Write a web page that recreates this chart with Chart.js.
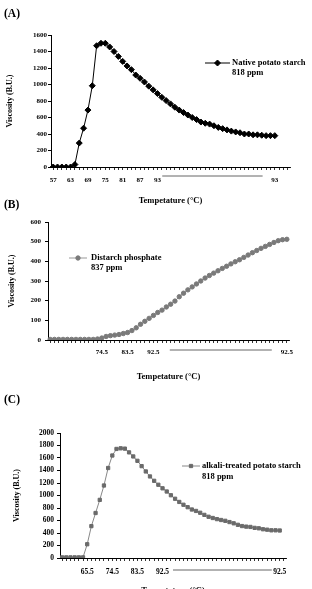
<!DOCTYPE html>
<html>
<head>
<meta charset="utf-8">
<script src="https://cdn.jsdelivr.net/npm/chart.js@4.4.1/dist/chart.umd.min.js"></script>
<style>
  html, body { margin: 0; padding: 0; background: #fff; overflow: hidden; }
  body { width: 312px; height: 589px; position: relative; }
  .panel { position: absolute; left: 0; width: 312px; }
  .tag { position: absolute; left: 4px; font: bold 11.5px 'Liberation Serif', serif; color: #000; }
</style>
</head>
<body>
<div class="panel" style="top:0px"><canvas id="chart-a" width="312" height="208"></canvas></div>
<div class="panel" style="top:205px"><canvas id="chart-b" width="312" height="179"></canvas></div>
<div class="panel" style="top:395px"><canvas id="chart-c" width="312" height="203"></canvas></div>
<div class="tag" style="top:7px">(A)</div>
<div class="tag" style="top:198px">(B)</div>
<div class="tag" style="top:393px">(C)</div>

<script>
// (A) native potato starch
const COUNT_A = 55;
const TICK_POS_A = [0, 4, 8, 12, 16, 20, 24, 51];
const TICK_TXT_A = ['57', '63', '69', '75', '81', '87', '93', '93'];
const HOLD_A = [25.1, 48.2];
const LEGEND_A = ['Native potato starch', '818 ppm'];
const VISC_A = [0, 0, 0, 0, 0, 30, 290, 470, 690, 985, 1470, 1500, 1500, 1455, 1400, 1340, 1280, 1225,
    1180, 1115, 1075, 1030, 980, 935, 890, 845, 805, 765, 725, 690, 660, 630, 600, 575, 545, 530, 520,
    500, 480, 465, 450, 435, 425, 415, 400, 400, 390, 390, 385, 380, 380, 380];

// (B) distarch phosphate
const COUNT_B = 56;
const TICK_POS_B = [12, 18, 24, 55];
const TICK_TXT_B = ['74.5', '83.5', '92.5', '92.5'];
const HOLD_B = [27.8, 51.5];
const LEGEND_B = ['Distarch phosphate', '837 ppm'];
const VISC_B = [3, 3, 3, 3, 3, 3, 3, 3, 3, 3, 3, 5, 10, 18, 22, 25, 28, 33, 38, 48, 62, 80, 95, 110, 125,
    140, 152, 168, 182, 198, 220, 238, 255, 270, 285, 300, 315, 328, 340, 352, 364, 375, 387, 398, 408,
    420, 432, 444, 455, 466, 476, 486, 496, 505, 510, 512];

// (C) alkali-treated potato starch
const COUNT_C = 54;
const TICK_POS_C = [6, 12, 18, 24, 52];
const TICK_TXT_C = ['65.5', '74.5', '83.5', '92.5', '92.5'];
const HOLD_C = [26.5, 50.1];
const LEGEND_C = ['alkali-treated potato starch', '818 ppm'];
const VISC_C = [10, 10, 10, 10, 10, 10, 220, 510, 720, 930, 1160, 1440, 1640, 1745, 1755, 1750, 1690,
    1625, 1555, 1470, 1385, 1305, 1235, 1172, 1115, 1064, 1004, 948, 897, 852, 813, 776, 753, 724, 690,
    660, 640, 622, 608, 595, 575, 555, 531, 511, 502, 497, 482, 475, 460, 453, 443, 443, 440];

const SERIF = "'Liberation Serif', 'Times New Roman', serif";

function buildLabels(n, pos, txt) {
    const out = new Array(n).fill('');
    pos.forEach(function (p, i) { out[p] = txt[i]; });
    return out;
}

// legend drawn inside the plot, two text lines next to a line+marker sample
const inlineLegend = {
    id: 'inlineLegend',
    afterDatasetsDraw(chart, args, opts) {
        const ds = chart.data.datasets[0];
        const ctx = chart.ctx;
        ctx.save();
        ctx.strokeStyle = ds.borderColor;
        ctx.lineWidth = 1;
        ctx.beginPath();
        ctx.moveTo(opts.x1, opts.y);
        ctx.lineTo(opts.x2, opts.y);
        ctx.stroke();
        ctx.fillStyle = ds.pointBackgroundColor;
        ctx.strokeStyle = ds.pointBorderColor;
        Chart.helpers.drawPoint(ctx, {
            pointStyle: ds.pointStyle, radius: ds.pointRadius, rotation: 0, borderWidth: 1
        }, (opts.x1 + opts.x2) / 2, opts.y);
        ctx.fillStyle = '#000';
        ctx.font = 'bold ' + opts.size + 'px ' + SERIF;
        ctx.textBaseline = 'middle';
        ctx.textAlign = 'left';
        opts.text.forEach(function (line, i) {
            ctx.fillText(line, opts.textX, opts.y + i * opts.gap);
        });
        ctx.restore();
    }
};

// the long rule under the axis that marks the hold at the top temperature
const holdLine = {
    id: 'holdLine',
    afterDraw(chart, args, opts) {
        const xs = chart.scales.x;
        const y = chart.chartArea.bottom + opts.dy;
        const ctx = chart.ctx;
        ctx.save();
        ctx.strokeStyle = '#666';
        ctx.lineWidth = 1;
        ctx.beginPath();
        ctx.moveTo(xs.getPixelForValue(opts.range[0]), y);
        ctx.lineTo(xs.getPixelForValue(opts.range[1]), y);
        ctx.stroke();
        ctx.restore();
    }
};

function makePanel(id, p) {
    const ctx = document.getElementById(id).getContext('2d');
    return new Chart(ctx, {
        type: 'line',
        data: {
            labels: buildLabels(p.count, p.tickPos, p.tickTxt),
            datasets: [{
                data: p.values,
                borderColor: p.lineColor,
                borderWidth: 1,
                pointStyle: p.pointStyle,
                pointRadius: p.pointRadius,
                pointBackgroundColor: p.pointColor,
                pointBorderColor: p.pointColor,
                pointBorderWidth: 1,
                tension: 0
            }]
        },
        options: {
            responsive: false,
            animation: false,
            devicePixelRatio: 1,
            layout: { padding: { top: p.padTop, right: p.padRight, left: 0, bottom: 0 } },
            plugins: {
                legend: { display: false },
                tooltip: { enabled: false },
                inlineLegend: p.legend,
                holdLine: { range: p.hold, dy: p.holdDy }
            },
            scales: {
                x: {
                    type: 'category',
                    offset: true,
                    afterFit: function (s) { s.height = p.xHeight; },
                    grid: { drawOnChartArea: false, tickLength: 3, color: '#000', lineWidth: 0.8 },
                    border: { color: '#000', width: 1 },
                    ticks: {
                        autoSkip: false, maxRotation: 0, padding: p.xPad, color: '#000',
                        font: { family: SERIF, size: p.tickSize, weight: 'bold' }
                    },
                    title: {
                        display: true, text: 'Tempetature (°C)', color: '#000',
                        font: { family: SERIF, size: 8.5, weight: 'bold' },
                        padding: { top: 0, bottom: 2 }
                    }
                },
                y: {
                    min: 0, max: p.yMax,
                    afterFit: function (s) { s.width = p.yWidth; },
                    grid: { drawOnChartArea: false, tickLength: 3, color: '#000' },
                    border: { color: '#000', width: 1 },
                    ticks: {
                        stepSize: p.yStep, padding: p.yPad, color: '#000',
                        font: { family: SERIF, size: p.tickSize, weight: 'bold' },
                        callback: function (v) { return String(v); }
                    },
                    title: {
                        display: true, text: 'Viscosity (B.U.)', color: '#000',
                        font: { family: SERIF, size: 8, weight: 'bold' },
                        padding: { top: p.yTitlePad, bottom: 0 }
                    }
                }
            }
        },
        plugins: [inlineLegend, holdLine]
    });
}

makePanel('chart-a', {
    count: COUNT_A, tickPos: TICK_POS_A, tickTxt: TICK_TXT_A, values: VISC_A, hold: HOLD_A, holdDy: 9,
    lineColor: '#000', pointColor: '#000', pointStyle: 'rectRot', pointRadius: 3,
    padTop: 35, padRight: 22, xHeight: 41, yWidth: 51, yMax: 1600, yStep: 200,
    xPad: 6, yPad: 1, tickSize: 7, yTitlePad: 5.5,
    legend: { x1: 205, x2: 230, y: 63, textX: 232, gap: 10, size: 8.5, text: LEGEND_A }
});

makePanel('chart-b', {
    count: COUNT_B, tickPos: TICK_POS_B, tickTxt: TICK_TXT_B, values: VISC_B, hold: HOLD_B, holdDy: 10,
    lineColor: '#999', pointColor: '#7a7a7a', pointStyle: 'circle', pointRadius: 2.2,
    padTop: 17, padRight: 23, xHeight: 44, yWidth: 48, yMax: 600, yStep: 100,
    xPad: 4.5, yPad: 4, tickSize: 7, yTitlePad: 7,
    legend: { x1: 69, x2: 87, y: 53, textX: 91, gap: 10, size: 8.5, text: LEGEND_B }
});

makePanel('chart-c', {
    count: COUNT_C, tickPos: TICK_POS_C, tickTxt: TICK_TXT_C, values: VISC_C, hold: HOLD_C, holdDy: 12,
    lineColor: '#888', pointColor: '#6a6a6a', pointStyle: 'rect', pointRadius: 2.3,
    padTop: 38, padRight: 26, xHeight: 40, yWidth: 60, yMax: 2000, yStep: 200,
    xPad: 7, yPad: 3, tickSize: 7.5, yTitlePad: 12,
    legend: { x1: 182, x2: 200, y: 71, textX: 202, gap: 10.5, size: 8.5, text: LEGEND_C }
});
</script>
</body>
</html>
